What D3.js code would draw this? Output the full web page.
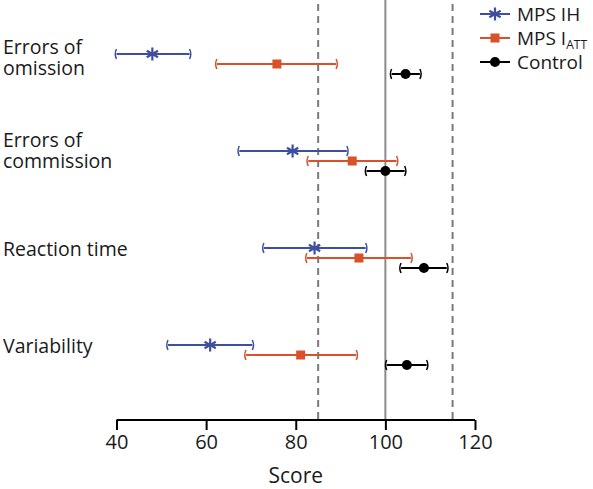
<!DOCTYPE html>
<html><head><meta charset="utf-8">
<script src="https://cdn.jsdelivr.net/npm/d3@7"></script>
<style>body{margin:0;background:#fff}svg{display:block}text{font-family:"Open Sans",sans-serif;fill:#1a1a1a}</style>
</head><body><svg id="c" width="593" height="489"></svg>
<script>
const categories = ["Errors of omission","Errors of commission","Reaction time","Variability"];
const labelLines = [["Errors of","omission"],["Errors of","commission"],["Reaction time"],["Variability"]];
const labelShift = [0, -4, 0, 0];
const seriesNames = ["MPS IH","MPS IATT","Control"];
const mpsIH_mean = [48.0, 79.3, 84.2, 60.9];
const mpsIH_lo   = [40.0, 67.4, 72.9, 51.5];
const mpsIH_hi   = [56.3, 91.4, 95.6, 70.3];
const mpsIATT_mean = [75.8, 92.6, 94.1, 81.1];
const mpsIATT_lo   = [62.4, 82.8, 82.5, 68.9];
const mpsIATT_hi   = [89.0, 102.5, 105.7, 93.5];
const control_mean = [104.5, 100.0, 108.6, 104.8];
const control_lo   = [101.4, 95.8, 103.5, 100.3];
const control_hi   = [107.7, 104.3, 113.7, 109.2];
const xTicks = [40, 60, 80, 100, 120];
const refLines = [85, 100, 115];

const colors = {"MPS IH":"#3e4f9f","MPS IATT":"#d8512b","Control":"#000"};
const series = [
  {name:"MPS IH", mean:mpsIH_mean, lo:mpsIH_lo, hi:mpsIH_hi, shape:"star"},
  {name:"MPS IATT", mean:mpsIATT_mean, lo:mpsIATT_lo, hi:mpsIATT_hi, shape:"square"},
  {name:"Control", mean:control_mean, lo:control_lo, hi:control_hi, shape:"circle"}
];

const svg = d3.select("#c");
const x = d3.scaleLinear().domain([40,120]).range([116.5,475]);
const y = d3.scalePoint().domain(categories).range([64,355]);
const off = d3.scalePoint().domain(seriesNames).range([-10,10]);
const axisY = 420;

// reference lines
svg.selectAll("line.ref").data(refLines).join("line")
  .attr("x1",d=>x(d)).attr("x2",d=>x(d))
  .attr("y1",d=>d===100?0:4).attr("y2",axisY)
  .attr("stroke",d=>d===100?"#8a8a8a":"#7a7a7a")
  .attr("stroke-width",2)
  .attr("stroke-dasharray",d=>d===100?null:"7,5");

// axis
const ax = svg.append("g").attr("transform",`translate(0,${axisY})`)
  .call(d3.axisBottom(x).tickValues(xTicks).tickSize(10).tickPadding(5).tickFormat(d3.format("d")));
ax.select(".domain").attr("stroke","#000").attr("stroke-width",2).attr("d",`M${x(40)},0H${x(120)}`);
ax.selectAll(".tick line").attr("stroke","#000").attr("stroke-width",2);
ax.selectAll(".tick text").style("font-family","Open Sans").style("font-size","20px").attr("fill","#1a1a1a");
svg.append("text").attr("x",x(80)).attr("y",483).attr("text-anchor","middle")
  .style("font-size","21px").text("Score");

// category labels
categories.forEach((c,i)=>{
  const lines = labelLines[i];
  const base = y(c) + labelShift[i];
  if(lines.length===2){
    svg.append("text").attr("x",3).attr("y",base-10).style("font-size","19.5px").text(lines[0]);
    svg.append("text").attr("x",3).attr("y",base+11).style("font-size","19.5px").text(lines[1]);
  } else {
    svg.append("text").attr("x",3).attr("y",base-2).style("font-size","19.5px").text(lines[0]);
  }
});

function cap(xp, yp, dir){
  const h=5, b=2.5*dir;
  return `M${xp},${yp-h}Q${xp+b},${yp} ${xp},${yp+h}`;
}
function marker(g, shape, cx, cy, color){
  if(shape==="star"){
    const r=6.5;
    const p = [0,60,120].map(a=>{const t=a*Math.PI/180;return `M${cx-r*Math.sin(t)},${cy-r*Math.cos(t)}L${cx+r*Math.sin(t)},${cy+r*Math.cos(t)}`;}).join("");
    g.append("path").attr("d",p+`M${cx-r},${cy}L${cx+r},${cy}`).attr("stroke",color).attr("stroke-width",2.2).attr("fill","none");
  } else if(shape==="square"){
    g.append("rect").attr("x",cx-4.5).attr("y",cy-4.5).attr("width",9).attr("height",9).attr("fill",color);
  } else {
    g.append("circle").attr("cx",cx).attr("cy",cy).attr("r",5).attr("fill",color);
  }
}

series.forEach(s=>{
  const col = colors[s.name];
  const g = svg.append("g");
  categories.forEach((c,i)=>{
    const cy = y(c)+off(s.name);
    const x0 = x(s.lo[i]), x1 = x(s.hi[i]);
    g.append("line").attr("x1",x0).attr("x2",x1).attr("y1",cy).attr("y2",cy).attr("stroke",col).attr("stroke-width",2);
    g.append("path").attr("d",cap(x0,cy,-1)).attr("stroke",col).attr("stroke-width",1.5).attr("fill","none");
    g.append("path").attr("d",cap(x1,cy,1)).attr("stroke",col).attr("stroke-width",1.5).attr("fill","none");
    marker(g, s.shape, x(s.mean[i]), cy, col);
  });
});

// legend
const leg = svg.append("g");
series.forEach((s,i)=>{
  const ly = 14 + i*24;
  const col = colors[s.name];
  leg.append("line").attr("x1",480).attr("x2",510).attr("y1",ly).attr("y2",ly).attr("stroke",col).attr("stroke-width",2);
  marker(leg, s.shape, 495, ly, col);
  const t = leg.append("text").attr("x",517).attr("y",ly+6.5).style("font-size","19px");
  if(s.name==="MPS IATT"){
    t.append("tspan").text("MPS I");
    t.append("tspan").attr("dy",4).style("font-size","12px").text("ATT");
  } else t.text(s.name);
});
</script></body></html>
